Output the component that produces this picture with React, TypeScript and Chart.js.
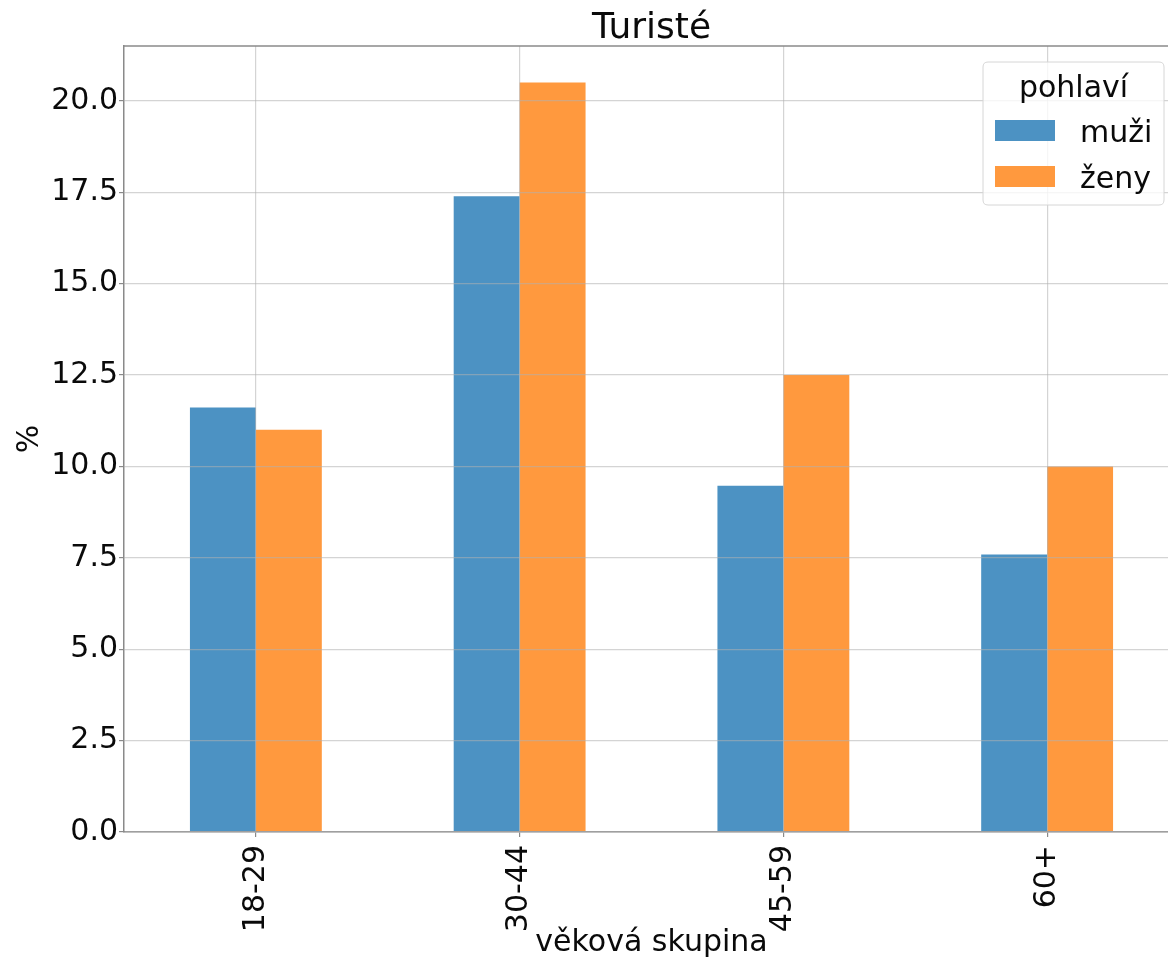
import React, { useEffect, useRef } from "react";
import { Chart, registerables } from "chart.js";

Chart.register(...registerables);

const title = "Turisté";
const xLabel = "věková skupina";
const yLabel = "%";
const legendTitle = "pohlaví";
const categories = ["18-29", "30-44", "45-59", "60+"];
const seriesNames = ["muži", "ženy"];
const muzi = [11.61, 17.39, 9.47, 7.59];
const zeny = [11.0, 20.5, 12.5, 10.0];
const seriesColors = ["#4c92c3", "#ff993e"];
const yMin = 0;
const yMax = 21.5;
const yStep = 2.5;

const FONT = "'DejaVu Sans', sans-serif";
const SPINE = "#8a8a8a";
const GRID = "rgba(176,176,176,0.55)";
const TEXT = "#0a0a0a";

const framePlugin = {
  id: "frameAndExtras",
  afterDraw(chart: any) {
    const { ctx, chartArea } = chart;
    const { left, right, top } = chartArea;
    ctx.save();
    // top spine
    ctx.strokeStyle = SPINE;
    ctx.lineWidth = 1.5;
    ctx.beginPath();
    ctx.moveTo(left, top);
    ctx.lineTo(right, top);
    ctx.stroke();
    // title
    ctx.fillStyle = TEXT;
    ctx.font = `36px ${FONT}`;
    ctx.textAlign = "center";
    ctx.textBaseline = "alphabetic";
    ctx.fillText(title, (left + right) / 2, top - 8);
    // legend
    const bx0 = right - 196;
    const bx1 = right - 15;
    const by0 = top + 16;
    const by1 = top + 159;
    const r = 5;
    ctx.beginPath();
    ctx.moveTo(bx0 + r, by0);
    ctx.lineTo(bx1 - r, by0);
    ctx.quadraticCurveTo(bx1, by0, bx1, by0 + r);
    ctx.lineTo(bx1, by1 - r);
    ctx.quadraticCurveTo(bx1, by1, bx1 - r, by1);
    ctx.lineTo(bx0 + r, by1);
    ctx.quadraticCurveTo(bx0, by1, bx0, by1 - r);
    ctx.lineTo(bx0, by0 + r);
    ctx.quadraticCurveTo(bx0, by0, bx0 + r, by0);
    ctx.closePath();
    ctx.fillStyle = "rgba(255,255,255,0.8)";
    ctx.fill();
    ctx.strokeStyle = "#d6d6d6";
    ctx.lineWidth = 1;
    ctx.stroke();
    ctx.fillStyle = TEXT;
    ctx.font = `30px ${FONT}`;
    ctx.textAlign = "center";
    ctx.fillText(legendTitle, (bx0 + bx1) / 2, top + 51);
    ctx.textAlign = "left";
    chart.data.datasets.forEach((ds: any, i: number) => {
      const hy = top + 74 + i * 46;
      ctx.fillStyle = ds.backgroundColor;
      ctx.fillRect(right - 184, hy, 60, 21);
      ctx.fillStyle = TEXT;
      ctx.fillText(ds.label, right - 99, hy + 22);
    });
    ctx.restore();
  },
};

export default function App() {
  const ref = useRef<HTMLCanvasElement>(null);
  useEffect(() => {
    const canvas = ref.current;
    if (!canvas) return;
    const chart = new Chart(canvas, {
      type: "bar",
      data: {
        labels: categories,
        datasets: [
          { label: seriesNames[0], data: muzi, backgroundColor: seriesColors[0], borderWidth: 0 },
          { label: seriesNames[1], data: zeny, backgroundColor: seriesColors[1], borderWidth: 0 },
        ],
      },
      options: {
        animation: false,
        responsive: false,
        devicePixelRatio: 1,
        layout: { padding: { top: 46, right: 1, bottom: 0, left: 0 } },
        datasets: { bar: { categoryPercentage: 0.5, barPercentage: 1 } },
        plugins: {
          legend: { display: false },
          title: { display: false },
          tooltip: { enabled: false },
        },
        scales: {
          x: {
            type: "category",
            offset: true,
            afterFit(scale: any) {
              scale.height = 129;
            },
            grid: {
              display: true,
              offset: false,
              color: GRID,
              lineWidth: 1.2,
              tickLength: 5,
              tickColor: SPINE,
              z: 1,
            },
            border: { display: true, color: SPINE, width: 1.5, z: 1 },
            ticks: {
              minRotation: 90,
              maxRotation: 90,
              padding: 8,
              color: TEXT,
              font: { family: FONT, size: 30 },
            },
            title: {
              display: true,
              text: xLabel,
              color: TEXT,
              font: { family: FONT, size: 30 },
              padding: { top: 0, bottom: 0 },
            },
          },
          y: {
            type: "linear",
            min: yMin,
            max: yMax,
            afterFit(scale: any) {
              scale.width = 124;
            },
            afterBuildTicks(scale: any) {
              scale.ticks = scale.ticks.filter(
                (t: any) => Math.abs(t.value / yStep - Math.round(t.value / yStep)) < 1e-6
              );
            },
            grid: {
              color: GRID,
              lineWidth: 1.2,
              tickLength: 5,
              tickColor: SPINE,
              z: 1,
            },
            border: { display: true, color: SPINE, width: 1.5, z: 1 },
            ticks: {
              stepSize: yStep,
              padding: 1,
              color: TEXT,
              font: { family: FONT, size: 30 },
              callback: (v: any) => Number(v).toFixed(1),
            },
            title: {
              display: true,
              text: yLabel,
              color: TEXT,
              font: { family: FONT, size: 30 },
              padding: { top: 12, bottom: 0 },
            },
          },
        },
      },
      plugins: [framePlugin],
    } as any);
    return () => chart.destroy();
  }, []);
  return (
    <div
      style={{
        position: "absolute",
        left: 0,
        top: 0,
        width: 1168,
        height: 961,
        overflow: "hidden",
        background: "#fff",
      }}
    >
      <canvas ref={ref} width={1180} height={961} style={{ display: "block", width: 1180, height: 961 }} />
    </div>
  );
}
